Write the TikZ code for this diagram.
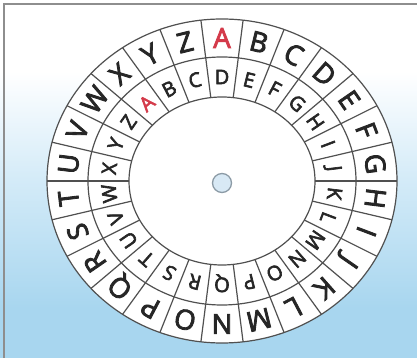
\documentclass[tikz,border=0pt]{standalone}
\usepackage{fontspec}
\setmainfont{Open Sans}
\newfontfamily\wheelfont{Open Sans}[FakeBold=3]
\definecolor{bgtop}{HTML}{FFFFFF}
\definecolor{bgmid}{HTML}{D4EBF8}
\definecolor{bgbot}{HTML}{A8D6EF}
\definecolor{bordercol}{HTML}{8E8E8E}
\definecolor{ringcol}{HTML}{505050}
\definecolor{letcol}{HTML}{262626}
\definecolor{redA}{HTML}{D43A4A}
\definecolor{holefill}{HTML}{D8E9F5}
\definecolor{holeline}{HTML}{8C9BA6}
\pgfdeclareverticalshading{bgshade}{100bp}{color(0bp)=(bgbot); color(32bp)=(bgbot); color(50bp)=(bgmid); color(65bp)=(bgtop); color(100bp)=(bgtop)}
\tikzset{
  ringline/.style={draw=ringcol, line width=1.2pt},
  outerlet/.style={inner sep=0pt, font=\wheelfont\fontsize{27.5}{27.5}\selectfont, text depth=0pt},
  innerlet/.style={inner sep=0pt, font=\wheelfont\fontsize{20}{20}\selectfont, text depth=0pt},
}
\begin{document}
\begin{tikzpicture}[x=1pt,y=1pt]
\useasboundingbox (0,0) rectangle (417,358);
\shade[shading=bgshade] (0,0) rectangle (417,358);
\draw[bordercol, line width=1.5pt] (4,0) -- (4,354) -- (417,354);
% wheel
\fill[white] (222,177) ellipse [x radius=175, y radius=162];
\draw[ringline] (222,177) ellipse [x radius=175, y radius=162];
\draw[ringline] (222,177) ellipse [x radius=134, y radius=124];
\draw[ringline] (222,177) ellipse [x radius=93, y radius=84];
\foreach \j in {0,...,25}{
  \pgfmathsetmacro\t{90+360/52+\j*360/26}
  \draw[ringline] ({222+93*cos(\t)},{177+84*sin(\t)}) -- ({222+175*cos(\t)},{177+162*sin(\t)});
}
\foreach \L [count=\n from 0] in {A,B,C,D,E,F,G,H,I,J,K,L,M,N,O,P,Q,R,S,T,U,V,W,X,Y,Z}{
  \ifnum\n=0 \def\lc{redA}\else\def\lc{letcol}\fi
  \pgfmathsetmacro\t{90-\n*360/26}
  \node[outerlet, text=\lc, rotate=\t-90] (o\n) at ({222+154.5*cos(\t)},{177+143*sin(\t)}) {\L};
  \pgfmathsetmacro\s{90-(\n-3)*360/26}
  \node[innerlet, text=\lc, rotate=\s-90] (i\n) at ({222+113.5*cos(\s)},{177+104*sin(\s)}) {\L};
}
\draw[draw=holeline, fill=holefill, line width=1.3pt] (222,175) circle (9.5);
\end{tikzpicture}
\end{document}
